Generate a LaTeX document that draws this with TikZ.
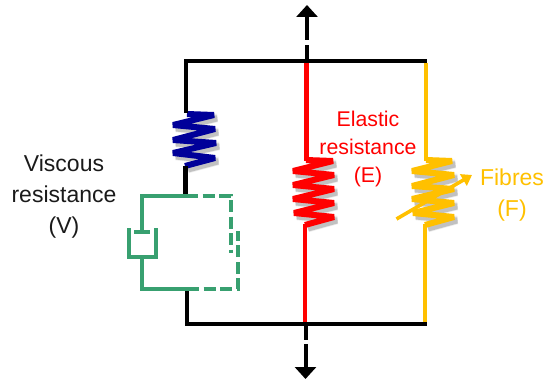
\documentclass[tikz,border=0pt]{standalone}
\usepackage{fontspec}
\setmainfont{Liberation Sans}
\usetikzlibrary{arrows.meta}
\definecolor{cblue}{HTML}{000099}
\definecolor{cred}{HTML}{FF0000}
\definecolor{cyel}{HTML}{FFC000}
\definecolor{cgreen}{HTML}{38A070}
\definecolor{ctext}{HTML}{1A1A1A}
\tikzset{
  rail/.style={line width=4pt,black,line cap=butt},
  wire/.style={line width=4.4pt},
  coil/.style={line width=6pt,line join=miter,miter limit=3},
  coilshadeA/.style={line width=8.5pt,gray,opacity=.15,shift={(3pt,-3pt)}},
  coilshadeB/.style={line width=6pt,gray,opacity=.4,shift={(3pt,-3.5pt)}},
  gline/.style={line width=4pt,cgreen},
  gdash/.style={gline,dash pattern=on 12pt off 4.5pt},
  bigarrow/.style={line width=4pt,black,-{Triangle[length=12pt,width=21pt]}},
  lbl/.style={align=center,inner sep=0pt},
  lblL/.style={lbl,ctext,font=\fontsize{23}{31}\selectfont},
  lblE/.style={lbl,cred,font=\fontsize{21.3}{28}\selectfont},
  lblF/.style={lbl,cyel,font=\fontsize{23}{31}\selectfont},
}
\begin{document}
\begin{tikzpicture}[x=1pt,y=-1pt]
\useasboundingbox (0,0) rectangle (543,385);
% junction coordinates
\coordinate (TL) at (186,61);
\coordinate (TM) at (306.5,61);
\coordinate (TR) at (427,61);
\coordinate (BL) at (186,324);
\coordinate (BM) at (305.5,324);
\coordinate (BR) at (427,324);
\coordinate (upgapA) at (307,61);
\coordinate (upgapB) at (307,45);
\coordinate (upgapC) at (307,40);
\coordinate (uptip) at (307,5);
\coordinate (dngapA) at (305.5,324);
\coordinate (dngapB) at (305.5,340);
\coordinate (dngapC) at (305.5,344);
\coordinate (dntip) at (305.5,379);
% blue spring
\def\bluecoil{(187,114) -- (214,115) -- (173,125) -- (215,129) -- (173,140) -- (216,143) -- (173,153) -- (215,158) -- (185,166)}
\foreach \s in {coilshadeA,coilshadeB}{\draw[coil,\s] \bluecoil;}
\draw[coil,cblue] \bluecoil;
% red spring
\def\redcoil{(306,160) -- (333,161) -- (293,171) -- (334,175) -- (293,185) -- (334,189) -- (293,199) -- (334,203) -- (294,213) -- (334,217) -- (305,225)}
\foreach \s in {coilshadeA,coilshadeB}{\draw[coil,\s] \redcoil;}
\draw[coil,cred] \redcoil;
% yellow spring
\def\yelcoil{(426,160) -- (452,161) -- (412,171) -- (454,175) -- (412,186) -- (454,189) -- (412,199) -- (454,203) -- (413,213) -- (454,217) -- (425,225)}
\foreach \s in {coilshadeA,coilshadeB}{\draw[coil,\s] \yelcoil;}
\draw[coil,cyel] \yelcoil;
% black wires
\draw[wire] (186,113) -- (TL);
\draw[wire] (185.5,166) -- (185.5,196);
\draw[wire] (187,289) -- (187,324) -- (BL);
\draw[rail] (184,61) -- (TR);
\draw[rail] (185,324) -- (BR);
% red and yellow wires
\draw[wire,cred] (306.5,63) -- (306.5,161);
\draw[wire,cred] (305,224) -- (305,322);
\draw[wire,cyel] (426,63) -- (426,161);
\draw[wire,cyel] (425,224) -- (425,322);
% variable arrow
\coordinate (varA) at (396.5,219);
\coordinate (varB) at (472,175);
\draw[line width=3.6pt,cyel,-{Triangle[length=10pt,width=13pt]}] (varA) -- (varB);
% green dashpot circuit
\coordinate (gTL) at (141.5,195.7);
\coordinate (gTJ) at (186,195.7);
\coordinate (gBL) at (141.5,289);
\coordinate (gBJ) at (187,289);
\draw[gline,line cap=square] (gTJ) -- (gTL) -- (141.5,232);
\draw[gline] (134,232) -- (150,232);
\draw[gline,line cap=square] (128.5,228) -- (128.5,256.7) -- (156,256.7) -- (156,228);
\draw[gline,line cap=square] (141.5,257) -- (gBL) -- (gBJ);
\draw[gdash] (gTJ) -- (231,195.7) -- (231,253);
\draw[gdash] (gBJ) -- (237.5,289) -- (237.5,231);
% main arrows
\draw[rail] (upgapA) -- (upgapB);
\draw[bigarrow] (upgapC) -- (uptip);
\draw[rail] (dngapA) -- (dngapB);
\draw[bigarrow] (dngapC) -- (dntip);
% labels
\node[lblL] (viscous) at (64,196.5) {Viscous\\resistance\\(V)};
\node[lblE] (elastic) at (368,148.5) {Elastic\\resistance\\(E)};
\node[lblF] (fibres) at (512,195) {Fibres\\(F)};
\end{tikzpicture}
\end{document}
